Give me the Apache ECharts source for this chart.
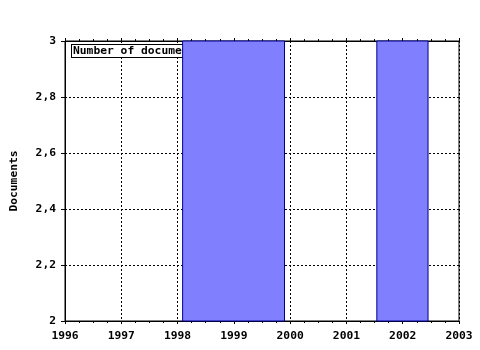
<!DOCTYPE html>
<html><head><meta charset="utf-8">
<script src="https://cdn.jsdelivr.net/npm/echarts@6/dist/echarts.min.js"></script>
<style>html,body{margin:0;padding:0;background:#fff}#c{width:480px;height:350px}</style>
</head><body><div id="c"></div>
<script>
const seriesName = 'Number of documents';
const binStarts = [1998.09, 2001.54];
const binEnds = [1999.9, 2002.45];
const binValues = [3, 3];
const yTickLabels = {2: '2', 2.2: '2,2', 2.4: '2,4', 2.6: '2,6', 2.8: '2,8', 3: '3'};

const font = '"DejaVu Sans Mono", monospace';
const fs = 11.3;
const data = binStarts.map((s, i) => [s, binEnds[i], binValues[i]]);
const chart = echarts.init(document.getElementById('c'), null, {renderer: 'canvas'});
const dotted = {color: '#000', width: 1, type: [2, 2]};
chart.setOption({
  animation: false,
  backgroundColor: '#fff',
  grid: {left: 65, right: 21, top: 41, bottom: 29, outerBoundsMode: 'none', containLabel: false,
    show: true, borderColor: '#000', borderWidth: 1, backgroundColor: 'transparent'},
  xAxis: [{
    type: 'value', min: 1996, max: 2003, interval: 1, position: 'bottom',
    axisLine: {show: true, lineStyle: {color: '#000'}},
    axisTick: {show: true, inside: false, length: 3, lineStyle: {color: '#000'}},
    minorTick: {show: true, splitNumber: 4, length: 2, lineStyle: {color: '#000'}},
    axisLabel: {color: '#000', fontFamily: font, fontWeight: 'bold', fontSize: fs, margin: 10, formatter: v => String(v)},
    splitLine: {show: true, lineStyle: dotted}
  }, {
    type: 'value', min: 1996, max: 2003, interval: 1, position: 'top',
    axisLine: {show: true, lineStyle: {color: '#000'}},
    axisTick: {show: true, inside: false, length: 3, lineStyle: {color: '#000'}},
    minorTick: {show: true, splitNumber: 4, length: 2, lineStyle: {color: '#000'}},
    axisLabel: {show: false},
    splitLine: {show: false}
  }],
  yAxis: {
    type: 'value', min: 2, max: 3, interval: 0.2,
    name: 'Documents', nameLocation: 'middle', nameRotate: 90, nameGap: 45,
    nameTextStyle: {color: '#000', fontFamily: font, fontWeight: 'bold', fontSize: fs},
    axisLine: {show: true, lineStyle: {color: '#000'}},
    axisTick: {show: true, length: 4, lineStyle: {color: '#000'}},
    axisLabel: {color: '#000', fontFamily: font, fontWeight: 'bold', fontSize: fs, margin: 9,
      formatter: v => yTickLabels[Math.round(v * 10) / 10] ?? String(v)},
    splitLine: {show: true, lineStyle: dotted}
  },
  graphic: [{
    type: 'text', left: 71, top: 44, z: 1,
    style: {text: seriesName, font: 'bold ' + fs + 'px ' + font, fill: '#000',
      backgroundColor: '#fff', borderColor: '#000', borderWidth: 1, padding: [1, 1, 0, 1]}
  }],
  series: [{
    type: 'custom', name: seriesName, z: 5, xAxisIndex: 0,
    data: data,
    encode: {x: [0, 1], y: 2},
    renderItem: function (params, api) {
      const p0 = api.coord([api.value(0), 0]);
      const p1 = api.coord([api.value(1), api.value(2)]);
      const rect = echarts.graphic.clipRectByRect({
        x: p0[0], y: p1[1], width: p1[0] - p0[0], height: p0[1] - p1[1]
      }, params.coordSys);
      if (!rect) return;
      return {type: 'rect', shape: rect, style: {fill: '#8080ff', stroke: '#000090', lineWidth: 1}};
    }
  }]
});
</script></body></html>
